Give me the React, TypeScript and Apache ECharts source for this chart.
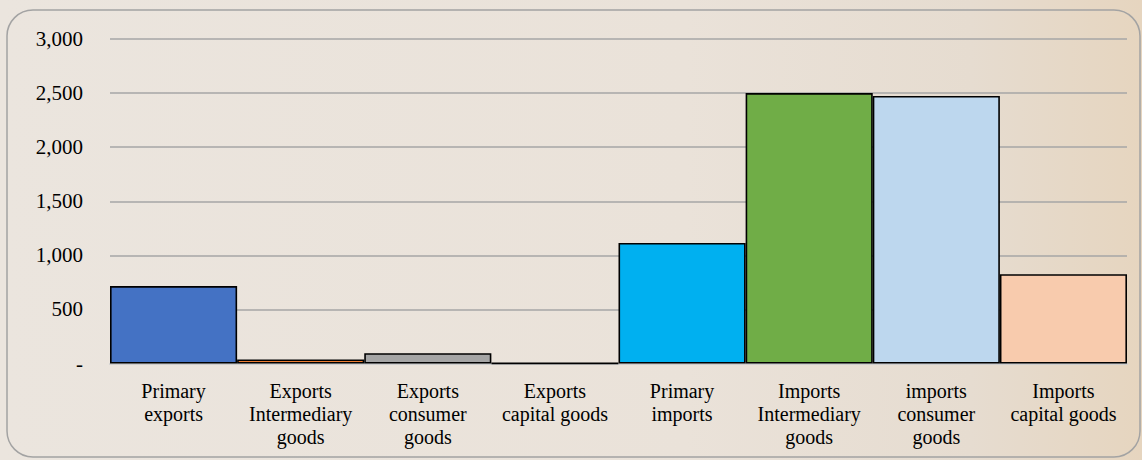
import React, { useEffect, useRef } from "react";
import * as echarts from "echarts";

const categories = [
  "Primary\nexports",
  "Exports\nIntermediary\ngoods",
  "Exports\nconsumer\ngoods",
  "Exports\ncapital goods",
  "Primary\nimports",
  "Imports\nIntermediary\ngoods",
  "imports\nconsumer\ngoods",
  "Imports\ncapital goods",
];
const values = [716, 38, 95, 2, 1114, 2500, 2473, 825];
const colors = ["#4472C4", "#ED7D31", "#A5A5A5", "#FFC000", "#00B0F0", "#70AD47", "#BDD7EE", "#F8CBAD"];
const yTicks = [0, 500, 1000, 1500, 2000, 2500, 3000];

const FONT = "'Liberation Serif', 'Times New Roman', serif";

export default function App() {
  const ref = useRef<HTMLDivElement>(null);
  useEffect(() => {
    if (!ref.current) return;
    const chart = echarts.init(ref.current, undefined, { renderer: "svg" });
    chart.setOption({
      animation: false,
      backgroundColor: {
        type: "linear",
        x: 0,
        y: 0,
        x2: 1,
        y2: 0,
        colorStops: [
          { offset: 0, color: "#ebe5de" },
          { offset: 0.6, color: "#eae2d9" },
          { offset: 0.85, color: "#e6dcd0" },
          { offset: 1, color: "#e6d5bf" },
        ],
      },
      graphic: [
        {
          type: "rect",
          shape: { x: 7, y: 10, width: 1133, height: 447, r: 26 },
          style: { fill: "none", stroke: "#a3a3a3", lineWidth: 1.5 },
          silent: true,
          z: -1,
        },
      ],
      grid: { left: 110, right: 15, top: 39, bottom: 96.5, containLabel: false },
      xAxis: {
        type: "category",
        data: categories,
        axisTick: { show: false },
        axisLine: { show: true, lineStyle: { color: "#cfcfcf", width: 2 } },
        axisLabel: {
          interval: 0,
          color: "#000",
          fontFamily: FONT,
          fontSize: 20,
          lineHeight: 23,
          margin: 16,
        },
      },
      yAxis: {
        type: "value",
        min: 0,
        max: 3000,
        interval: 500,
        axisLine: { show: false },
        axisTick: { show: false },
        splitLine: { lineStyle: { color: "#a6a6a6", width: 1.5 } },
        axisLabel: {
          color: "#000",
          fontFamily: FONT,
          fontSize: 21,
          margin: 27,
          formatter: (v: number) =>
            yTicks.includes(v) ? (v === 0 ? "-" : v.toLocaleString("en-US")) : "",
        },
      },
      series: [
        {
          type: "bar",
          barCategoryGap: "0%",
          data: values.map((v, i) => ({
            value: v,
            itemStyle: { color: colors[i], borderColor: "#000", borderWidth: 1.6 },
          })),
        },
      ],
    });
    return () => chart.dispose();
  }, []);
  return (
    <div
      ref={ref}
      style={{ position: "absolute", left: 0, top: 0, width: 1142, height: 460 }}
    />
  );
}
